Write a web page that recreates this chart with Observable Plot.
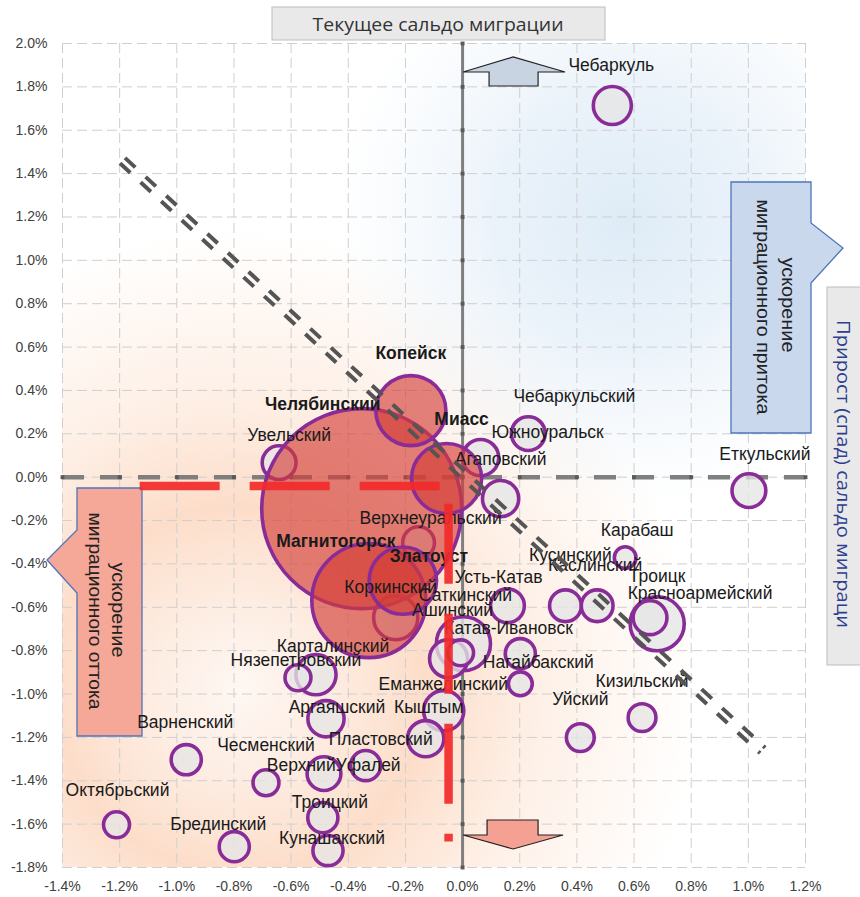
<!DOCTYPE html>
<html><head><meta charset="utf-8">
<script src="https://cdn.jsdelivr.net/npm/d3@7"></script>
<script src="https://cdn.jsdelivr.net/npm/@observablehq/plot@0.6"></script>
<style>
html,body{margin:0;padding:0;background:#fff;}
#chart{position:relative;width:860px;height:897px;overflow:hidden;}
#chart svg{display:block;}
</style></head><body><div id="chart"></div>
<script>
// ---------- DATA ----------
const xTicks = [-1.4,-1.2,-1.0,-0.8,-0.6,-0.4,-0.2,0,0.2,0.4,0.6,0.8,1.0,1.2];
const yTicks = [-1.8,-1.6,-1.4,-1.2,-1.0,-0.8,-0.6,-0.4,-0.2,0,0.2,0.4,0.6,0.8,1.0,1.2,1.4,1.6,1.8,2.0];

// cities (red bubbles)
const cityNames = ["Челябинский","Копейск","Магнитогорск","Златоуст","Миасс"];
const cityX = [-0.353,-0.181,-0.328,-0.209,-0.056];
const cityY = [-0.145,0.307,-0.569,-0.477,-0.006];
const citySize = [1190,146,387,135,146];

// districts (grey bubbles)
const districtNames = ["Чебаркуль","Чебаркульский","Южноуральск","Агаповский","Увельский","Еткульский","Верхнеуральский","Карабаш","Кусинский","Каслинский","Троицк","Красноармейский","Усть-Катав","Коркинский","Саткинский","Ашинский","Катав-Ивановск","Нагайбакский","Еманжелинский","Кыштым","Пластовский","Верхний Уфалей","","Аргаяшский","Карталинский","Нязепетровский","Варненский","Чесменский","Октябрьский","Брединский","Троицкий","Кунашакский","Уйский","Кизильский"];
const districtX = [0.524,0.230,0.063,0.133,-0.642,1.002,-0.154,0.569,0.360,0.471,0.681,0.656,0.157,-0.234,0.003,-0.049,-0.007,0.202,0.202,-0.066,-0.129,-0.339,-0.485,-0.478,-0.513,-0.576,-0.967,-0.688,-1.211,-0.799,-0.489,-0.471,0.412,0.628];
const districtY = [1.714,0.201,0.090,-0.099,0.067,-0.062,-0.302,-0.371,-0.593,-0.593,-0.676,-0.648,-0.593,-0.648,-0.768,-0.837,-0.810,-0.814,-0.953,-1.077,-1.206,-1.330,-1.367,-1.114,-0.911,-0.925,-1.303,-1.409,-1.603,-1.704,-1.570,-1.722,-1.201,-1.109];
const districtSize = [43,34,39,39,34,34,30,14,30,30,87,34,34,58,87,43,20,27,17,48,39,27,34,39,48,20,27,20,20,27,27,27,23,23];

// reference lines
const trendX = [-1.19, 1.05];
const trendY = [1.46, -1.26];
const redHX = [-1.13, -0.08];
const redHY = [-0.041, -0.041];
const redVX = [-0.049, -0.049];
const redVY = [-0.122, -1.68];

// label text overrides and placement (pixels, relative to bubble centre)
const labelText = {"Верхний Уфалей":"ВерхнийУфалей"};
const labelOff = {
  "Челябинский":[-39,-104],"Копейск":[0,-57],"Магнитогорск":[-33,-59],"Златоуст":[26,-24],"Миасс":[15,-59],
  "Чебаркуль":[-1,-40],"Чебаркульский":[46,-37],"Южноуральск":[67,-25],"Агаповский":[0,-39],"Увельский":[10,-27],
  "Еткульский":[16,-36],"Верхнеуральский":[12,-24],"Карабаш":[12,-27],"Кусинский":[5,-50],"Каслинский":[-2,-40],
  "Троицк":[0,-47],"Красноармейский":[50,-24],"Усть-Катав":[-9,-28],"Коркинский":[-5,-30],"Саткинский":[2,-48],
  "Ашинский":[4,-48],"Катав-Ивановск":[48,-24],"Нагайбакский":[18,9],"Еманжелинский":[-77,1],"Кыштым":[-15,-3],
  "Пластовский":[-45,1],"Верхний Уфалей":[-32,0],"":[0,0],"Аргаяшский":[11,-11],"Карталинский":[17,-28],
  "Нязепетровский":[-2,-17],"Варненский":[-1,-37],"Чесменский":[0,-37],"Октябрьский":[1,-34],"Брединский":[-16,-22],
  "Троицкий":[7,-15],"Кунашакский":[4,-12],"Уйский":[0,-38],"Кизильский":[0,-36]
};

// ---------- BUILD ----------
const W = 860, H = 897, mL = 62, mR = 55, mT = 43, mB = 30;
const xDom = [-1.4, 1.2], yDom = [-1.8, 2.0];
const xs = Plot.scale({x:{domain:xDom, range:[mL, W - mR]}});
const ys = Plot.scale({y:{domain:yDom, range:[H - mB, mT]}});

const cities = cityNames.map((n,i)=>({name:n, x:cityX[i], y:cityY[i], size:citySize[i]}));
const districts = districtNames.map((n,i)=>({name:n, x:districtX[i], y:districtY[i], size:districtSize[i]}))
  .sort((a,b)=>a.size-b.size);
const trend = trendX.map((x,i)=>({x, y:trendY[i]}));
const redH = redHX.map((x,i)=>({x, y:redHY[i]}));
const redV = redVX.map((x,i)=>({x, y:redVY[i]}));

const lx = d => xs.invert(xs.apply(d.x) + labelOff[d.name][0]);
const ly = d => ys.invert(ys.apply(d.y) + labelOff[d.name][1]);
const lt = d => labelText[d.name] ?? d.name;
const fmt = d => d.toFixed(1) + "%";

const purple = "#8a2c98";
const redStyle = {stroke: "#f22a2a", strokeOpacity: 0.92, strokeWidth: 8.5, strokeDasharray: "80,30", strokeLinecap: "butt"};
const trendStyle = {stroke: "#555", strokeWidth: 4, strokeDasharray: "14,14", strokeLinecap: "butt"};

const plot = Plot.plot({
  width: W, height: H,
  marginLeft: mL, marginRight: mR, marginTop: mT, marginBottom: mB,
  x: {domain: xDom},
  y: {domain: yDom},
  r: {type: "sqrt", domain: [0, 1190], range: [0, 100]},
  style: {fontFamily: "'Liberation Sans', Arial, sans-serif", background: "transparent"},
  marks: [
    Plot.gridX(xTicks, {stroke: "#cfcfcf", strokeOpacity: 1, strokeDasharray: "10,5"}),
    Plot.gridY(yTicks, {stroke: "#cfcfcf", strokeOpacity: 1, strokeDasharray: "10,5"}),
    Plot.ruleX([0], {stroke: "#7f7f7f", strokeWidth: 3}),
    Plot.ruleY([0], {stroke: "#7f7f7f", strokeWidth: 4.5, strokeDasharray: "22,16"}),
    Plot.dot(yTicks, {x: 0, y: d => d, symbol: "square", r: 2.2, fill: "#5a5a5a"}),
    Plot.dot(xTicks, {x: d => d, y: 0, symbol: "square", r: 2.2, fill: "#5a5a5a"}),
    Plot.dot(districts, {x: "x", y: "y", r: "size", fill: "#e6e6e6", fillOpacity: 0.78, stroke: purple, strokeWidth: 3.6}),
    Plot.dot(cities, {x: "x", y: "y", r: "size", fill: "#d33d36", fillOpacity: 0.64, stroke: purple, strokeWidth: 3.6}),
    Plot.text(districts, {x: lx, y: ly, text: lt, fontSize: 17.5, fill: "#1a1a1a"}),
    Plot.text(cities, {x: lx, y: ly, text: lt, fontSize: 17.5, fontWeight: "bold", fill: "#1a1a1a"}),
    Plot.line(redH, {x: "x", y: "y", ...redStyle}),
    Plot.line(redV, {x: "x", y: "y", ...redStyle}),
    Plot.line(trend, {x: "x", y: "y", ...trendStyle, dx: 2.5, dy: -2.7}),
    Plot.line(trend, {x: "x", y: "y", ...trendStyle, dx: -2.5, dy: 2.7}),
    Plot.axisX(xTicks, {tickSize: 0, tickPadding: 14, tickFormat: fmt, fontSize: 14, fill: "#404040", label: null}),
    Plot.axisY(yTicks, {tickSize: 0, tickPadding: 15, tickFormat: fmt, fontSize: 14, fill: "#404040", label: null})
  ]
});
document.getElementById("chart").appendChild(plot);

// ---------- BACKGROUND & ANNOTATIONS ----------
const svg = d3.select(plot);
const px0 = xs.apply(xDom[0]), px1 = xs.apply(xDom[1]), py0 = ys.apply(yDom[1]), py1 = ys.apply(yDom[0]);
const defs = svg.insert("defs", ":first-child");
const og = defs.append("radialGradient").attr("id","gOr").attr("gradientUnits","userSpaceOnUse")
  .attr("cx",240).attr("cy",690).attr("r",460);
[[0,"#fdefe6",0.5],[0.4,"#fcd7bf",0.85],[0.66,"#fde2d0",0.5],[1,"#fde2d0",0]].forEach(([o,c,a])=>
  og.append("stop").attr("offset",o).attr("stop-color",c).attr("stop-opacity",a));
const bg = defs.append("radialGradient").attr("id","gBl").attr("gradientUnits","userSpaceOnUse")
  .attr("cx",625).attr("cy",220).attr("r",290);
[[0,"#d8e8f5",0.85],[0.45,"#e0ecf7",0.65],[1,"#e9f2fa",0]].forEach(([o,c,a])=>
  bg.append("stop").attr("offset",o).attr("stop-color",c).attr("stop-opacity",a));
defs.append("clipPath").attr("id","cpPlot").append("rect")
  .attr("x",px0).attr("y",py0).attr("width",px1-px0).attr("height",py1-py0);
const bgG = svg.insert("g", "g").attr("clip-path","url(#cpPlot)");
bgG.append("rect").attr("x",px0).attr("y",py0).attr("width",px1-px0).attr("height",py1-py0).attr("fill","url(#gOr)");
bgG.append("rect").attr("x",px0).attr("y",py0).attr("width",px1-px0).attr("height",py1-py0).attr("fill","url(#gBl)");

// callouts go beneath the bubble labels
const textGroups = plot.querySelectorAll('g[aria-label="text"]');
let callG;
if (textGroups.length) {
  const g = document.createElementNS("http://www.w3.org/2000/svg", "g");
  plot.insertBefore(g, textGroups[0]);
  callG = d3.select(g);
} else {
  callG = svg.append("g");
}
const ann = svg.append("g");
const ax0 = xs.apply(0);
// up arrow
ann.append("path").attr("d",`M${ax0+27},86 V72 H${ax0+1} L${ax0+51},57 L${ax0+103},72 H${ax0+76} V86 Z`)
  .attr("fill","#c9d4e2").attr("stroke","#222").attr("stroke-width",1.2);
// down arrow
ann.append("path").attr("d",`M${ax0+25},820 H${ax0+76} V835 H${ax0+101} L${ax0+51},849 L${ax0+1},835 H${ax0+25} Z`)
  .attr("fill","#f4a193").attr("stroke","#222").attr("stroke-width",1.2);
// blue callout
callG.append("path").attr("d","M731,182 H811 V223 L843,248 L811,283 V433 H731 Z")
  .attr("fill","#c9d8ed").attr("stroke","#4f74b8").attr("stroke-width",1.3);
// orange callout
callG.append("path").attr("d","M77,488 H142 V736 H77 V593 L47,560 L77,530 Z")
  .attr("fill","#f5a898").attr("stroke","#4f74b8").attr("stroke-width",1.3);
function vtext(g, x, y, s, len, fill, size, fam){
  g.append("text").attr("transform",`translate(${x},${y}) rotate(90)`)
    .attr("text-anchor","middle").attr("dominant-baseline","central")
    .attr("font-family", fam || "'Liberation Sans', Arial, sans-serif").attr("font-size",size||18)
    .attr("fill",fill||"#222").attr("textLength",len).attr("lengthAdjust","spacingAndGlyphs").text(s);
}
vtext(callG, 788, 305, "ускорение", 95);
vtext(callG, 763, 307, "миграционного притока", 215);
vtext(callG, 118, 610, "ускорение", 95);
vtext(callG, 95, 611, "миграционного оттока", 197);
// top title box
ann.append("rect").attr("x",272).attr("y",7).attr("width",333).attr("height",33)
  .attr("fill","#e9e9e9").attr("stroke","#bdbdbd");
ann.append("text").attr("x",438).attr("y",24).attr("text-anchor","middle").attr("dominant-baseline","central")
  .attr("font-family","'Open Sans', sans-serif").attr("font-size",18).attr("fill","#333")
  .attr("textLength",251).attr("lengthAdjust","spacingAndGlyphs").text("Текущее сальдо миграции");
// right title box
ann.append("rect").attr("x",827).attr("y",287).attr("width",40).attr("height",378)
  .attr("fill","#e9e9e9").attr("stroke","#bdbdbd");
vtext(ann, 844, 474, "Прирост (спад) сальдо миграци", 308, "#2e3f8f", 18, "'Open Sans', sans-serif");
</script></body></html>
